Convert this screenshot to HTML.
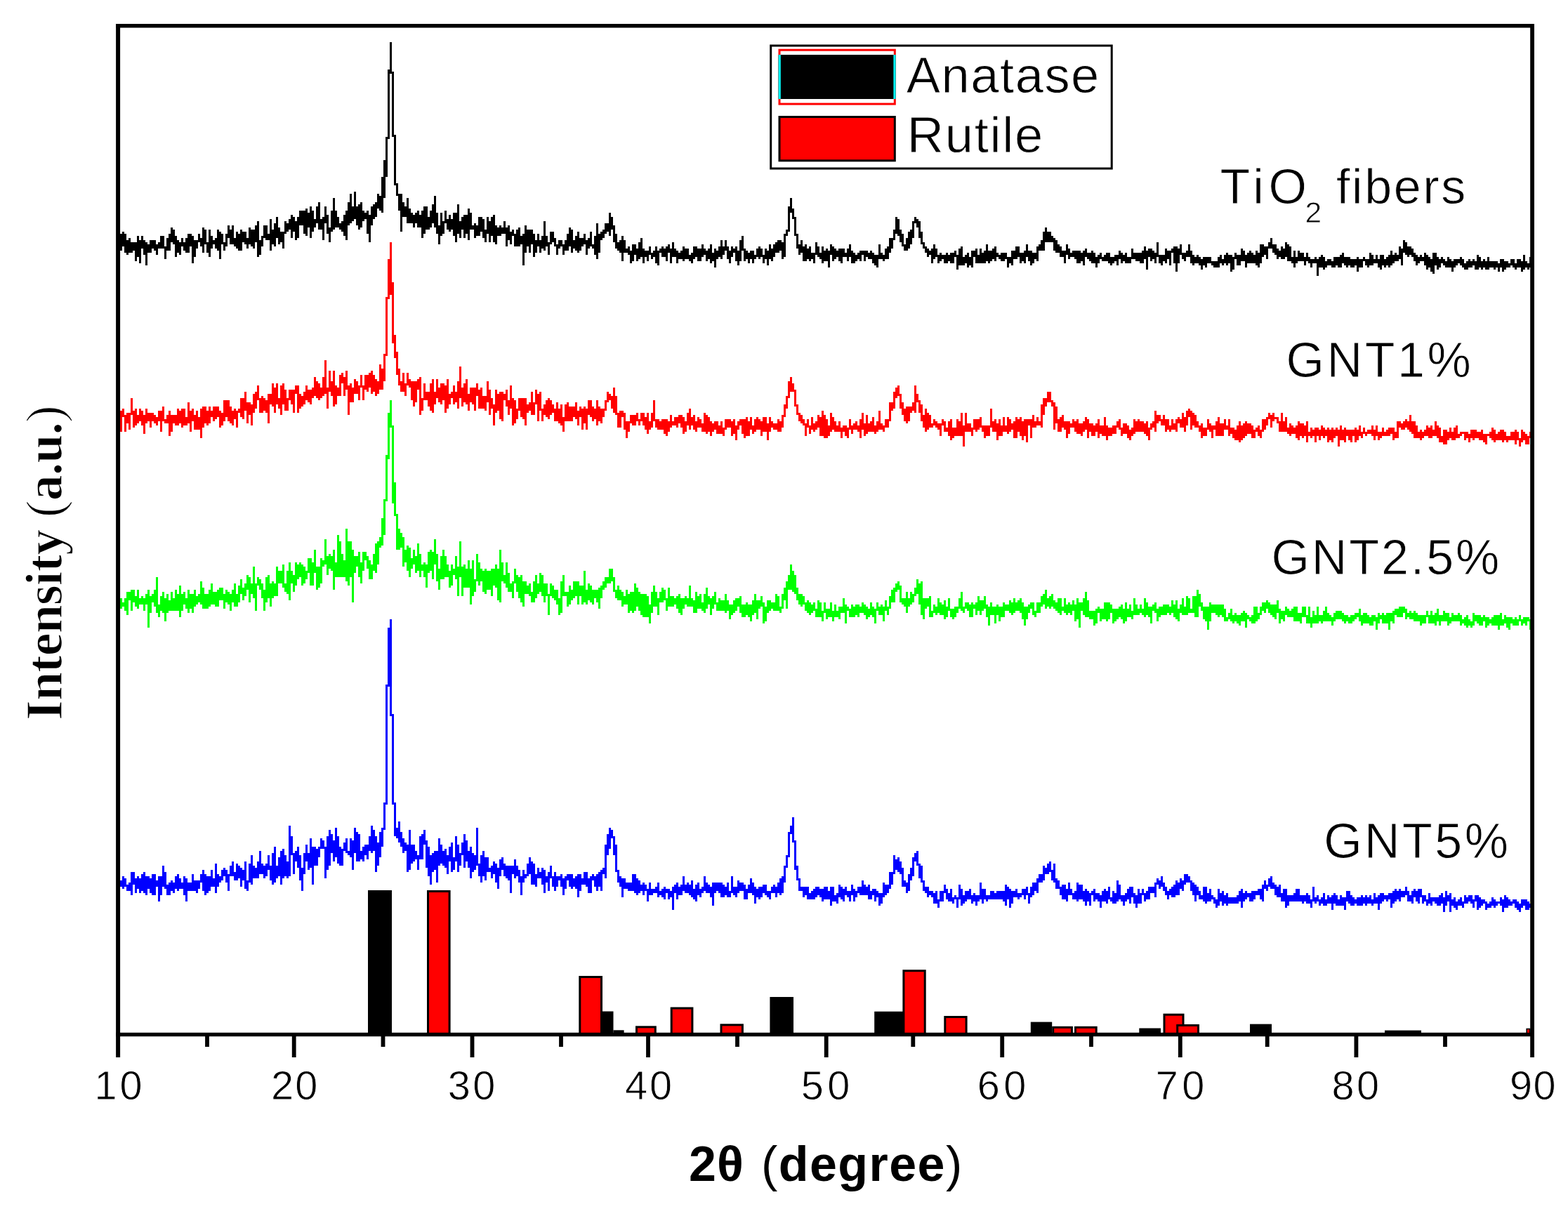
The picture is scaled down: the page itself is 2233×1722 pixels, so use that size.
<!DOCTYPE html>
<html><head><meta charset="utf-8"><title>XRD patterns</title>
<style>html,body{margin:0;padding:0;background:#fff;}svg{display:block;}</style>
</head><body>
<svg width="2233" height="1722" viewBox="0 0 2233 1722">
<rect width="2233" height="1722" fill="#fff"/>
<path fill="#000" d="M168 342H171V333H174V330H177V333H180V342H183V339H186V345H189H192H195V336H198V342H201V336H204V342H207V345H210V348H213V342H216H219H222V348H225V345H228V336H231H234V351H237V339H240V333H243V324H246V327H249V336H252V342H255V345H258V339H261V345H264V339H267V333H270H273V336H276V342H279H282V333H285V339H288V324H291V327H294V345H297V327H300V336H303V342H306V339H309V327H312V330H315V333H318V345H321V333H324V321H327V327H330V321H333V339H336V330H339V333H342V327H345V330H348H351V339H354V324H357V327H360H363V321H366V315H369V342H372V336H375V321H378H381V333H384V312H387V327H390V318H393V309H396V324H399V330H402H405V315H408V318H411V312H414V306H417V309H420V315H423V309H426V300H429H432H435V297H438V303H441V294H444V300H447V312H450V294H453V288H456V312H459V309H462V294H465V306H468V324H471V300H474V282H477V300H480V309H483V318H486V315H489V306H492V300H495V288H498V276H501V294H504V273H507V294H510V291H513V288H516V300H519V303H522V300H525V306H528V294H531V291H534V288H537V276H540V279H543V252H546V228H549V195H552V99H555V60H558V102H561V192H564V261H567V276H570H573V288H576V294H579V282H582V297H585V303H588V306H591V303H594V300H597V306H600V300H603V294H606H609V309H612V300H615V291H618V279H621V303H624V321H627V303H630V315H633V300H636V312H639V306H642V312H645V303H648H651V291H654V315H657V309H660V306H663H666V297H669V303H672V321H675V318H678V321H681V309H684H687V312H690V327H693V309H696V315H699V309H702V306H705V321H708V324H711V321H714V324H717V315H720V324H723V321H726V330H729V327H732V333H735V327H738V324H741V336H744V333H747V321H750V327H753H756H759V333H762V342H765V333H768V342H771V336H774V315H777V336H780V345H783V330H786H789V339H792V348H795V342H798H801V348H804V342H807V333H810V324H813V327H816V342H819V336H822V330H825V339H828H831V333H834V342H837V339H840V330H843V348H846V336H849V318H852V333H855V330H858V327H861V318H864H867V303H870V309H873V321H876V333H879V345H882V342H885V336H888V342H891V354H894V351H897V357H900V348H903H906V354H909V345H912V339H915V354H918V357H921H924V351H927V360H930V357H933V351H936V357H939V354H942V351H945V354H948V351H951V348H954V354H957V345H960V354H963V357H966V360H969V357H972V351H975V354H978H981V363H984V360H987V351H990H993V354H996H999V348H1002V354H1005V357H1008V354H1011V348H1014V360H1017V354H1020V357H1023V351H1026V342H1029V351H1032V342H1035V351H1038V357H1041V351H1044V354H1047V351H1050V357H1053V342H1056V336H1059V354H1062V357H1065V360H1068V357H1071H1074V363H1077V354H1080V351H1083V354H1086V363H1089V354H1092V357H1095V348H1098V354H1101V348H1104V345H1107V342H1110H1113V345H1116V333H1119V327H1122V294H1125V282H1128V297H1131V309H1134V333H1137V348H1140V342H1143V351H1146V348H1149V354H1152V351H1155V360H1158H1161V345H1164V351H1167V360H1170V351H1173V357H1176V354H1179V357H1182V348H1185V351H1188V354H1191V357H1194V354H1197H1200H1203V360H1206V354H1209V348H1212V357H1215V360H1218V363H1221V360H1224V357H1227H1230H1233H1236V360H1239V357H1242V360H1245V363H1248H1251V348H1254V360H1257V363H1260V354H1263V351H1266V339H1269H1272V327H1275V309H1278V312H1281V327H1284V333H1287V348H1290V339H1293V330H1296V327H1299V315H1302V309H1305V312H1308V315H1311V330H1314V345H1317V351H1320V354H1323V357H1326V354H1329V348H1332V354H1335V363H1338V360H1341V363H1344H1347V360H1350V363H1353V360H1356H1359V357H1362V363H1365V354H1368V351H1371V366H1374V363H1377V360H1380V366H1383V357H1386H1389V354H1392V363H1395V354H1398V360H1401V357H1404V348H1407V357H1410H1413V354H1416V351H1419V360H1422V363H1425V360H1428H1431H1434V366H1437H1440V357H1443H1446V351H1449H1452V360H1455H1458V357H1461V348H1464V357H1467H1470V360H1473H1476V351H1479V348H1482V342H1485V330H1488V324H1491V330H1494H1497V336H1500V339H1503V342H1506V348H1509V351H1512V357H1515H1518V348H1521V354H1524V360H1527V357H1530H1533H1536H1539V360H1542V357H1545V354H1548V360H1551H1554V357H1557V360H1560V366H1563V363H1566V360H1569V366H1572V363H1575V360H1578H1581V366H1584H1587V363H1590H1593V357H1596V360H1599V363H1602V360H1605V366H1608H1611V354H1614V360H1617H1620H1623H1626V357H1629V351H1632V357H1635V354H1638H1641V357H1644V360H1647V345H1650V363H1653H1656H1659V354H1662V357H1665H1668V354H1671V351H1674H1677V354H1680V348H1683V360H1686H1689V357H1692V348H1695V357H1698V363H1701V366H1704V363H1707V366H1710V369H1713V366H1716H1719H1722H1725V372H1728H1731H1734V366H1737V363H1740V369H1743V363H1746V360H1749V363H1752H1755V366H1758V360H1761V363H1764H1767V354H1770V357H1773V363H1776V360H1779V357H1782V360H1785V363H1788V357H1791V360H1794V348H1797H1800V351H1803H1806V345H1809V339H1812V348H1815H1818V354H1821V357H1824V351H1827V354H1830V345H1833V348H1836V351H1839V366H1842V357H1845V366H1848V357H1851V360H1854H1857V366H1860V360H1863V366H1866V369H1869H1872V366H1875V369H1878V366H1881V363H1884V366H1887V372H1890V369H1893H1896V372H1899V366H1902H1905H1908V363H1911V360H1914V366H1917H1920H1923V369H1926H1929H1932V366H1935V369H1938H1941V366H1944V369H1947H1950V360H1953V363H1956V369H1959V363H1962V369H1965V363H1968H1971V369H1974V366H1977V363H1980V357H1983V363H1986V360H1989V363H1992V351H1995V354H1998V342H2001V345H2004V351H2007H2010V354H2013V360H2016V363H2019V366H2022V363H2025V366H2028V360H2031V363H2034V366H2037V369H2040V360H2043H2046V366H2049V369H2052V366H2055V369H2058V372H2061V366H2064V369H2067V372H2070V369H2073H2076H2079V366H2082V369H2085V375H2088V372H2091V369H2094V372H2097V369H2100V372H2103V363H2106V366H2109V372H2112V369H2115V372H2118V366H2121V372H2124H2127H2130H2133V375H2136V369H2139H2142V372H2145H2148V375H2151V369H2154H2157V375H2160V369H2163H2166V372H2169V363H2172V372H2175V375H2178V366H2181V381H2178V384H2175V381H2172V384H2169V387H2166V381H2163H2160V384H2157V381H2154V378H2151V381H2148H2145V384H2142V387H2139V381H2136V387H2133V381H2130V384H2127V381H2124H2121V384H2118H2115V381H2112V384H2109V381H2106V384H2103H2100V378H2097V381H2094H2091V384H2088H2085V381H2082V378H2079V375H2076V378H2073V381H2070V387H2067V381H2064H2061H2058V378H2055V375H2052V381H2049V384H2046V378H2043V390H2040V387H2037V381H2034V384H2031V378H2028V372H2025H2022V375H2019V378H2016V372H2013V366H2010V363H2007V366H2004V363H2001V360H1998V378H1995V369H1992V372H1989H1986V375H1983V378H1980V381H1977V378H1974V381H1971V378H1968V384H1965V381H1962V375H1959H1956V378H1953H1950V381H1947V378H1944V372H1941V381H1938H1935V387H1932V378H1929V381H1926H1923V378H1920V381H1917V378H1914V375H1911V381H1908H1905V378H1902V381H1899H1896V378H1893H1890V381H1887V384H1884V381H1881H1878V393H1875V375H1872H1869V381H1866V375H1863V372H1860V378H1857V372H1854H1851H1848V375H1845V381H1842V375H1839V372H1836H1833V366H1830V369H1827H1824V366H1821V369H1818V363H1815V360H1812V354H1809H1806V369H1803V363H1800V366H1797V375H1794V381H1791V378H1788V375H1785H1782H1779H1776V381H1773V372H1770H1767V378H1764H1761V369H1758V384H1755V387H1752V375H1749V378H1746V375H1743V378H1740V375H1737V381H1734H1731H1728V378H1725V375H1722H1719V381H1716V378H1713V384H1710V378H1707V375H1704H1701V378H1698V375H1695V366H1692H1689V372H1686V369H1683V363H1680V375H1677V387H1674V375H1671V360H1668V378H1665V369H1662V375H1659V372H1656V378H1653V375H1650V366H1647V375H1644V369H1641V372H1638V366H1635V384H1632V369H1629V375H1626H1623V372H1620H1617V369H1614H1611V375H1608H1605H1602V372H1599V375H1596V369H1593V378H1590V372H1587V375H1584V378H1581V375H1578V372H1575H1572H1569V369H1566V375H1563V381H1560V375H1557H1554V372H1551V369H1548V366H1545V378H1542V372H1539V375H1536H1533V369H1530V366H1527H1524V369H1521V363H1518V375H1515V366H1512H1509V360H1506H1503V357H1500V345H1497H1494H1491H1488V357H1485H1482H1479V372H1476V369H1473V375H1470V378H1467V372H1464V366H1461V375H1458V372H1455V375H1452V366H1449V369H1446H1443V378H1440V375H1437V381H1434V369H1431V372H1428H1425V369H1422V366H1419V372H1416V369H1413V372H1410V375H1407V372H1404V375H1401H1398H1395H1392H1389V366H1386V381H1383V378H1380V381H1377V375H1374V378H1371H1368H1365V384H1362V366H1359V375H1356H1353V372H1350V375H1347H1344V369H1341V372H1338V375H1335V366H1332V369H1329V375H1326V363H1323V366H1320V360H1317V354H1314V348H1311V339H1308V324H1305V318H1302V339H1299V348H1296V354H1293V357H1290H1287V351H1284V345H1281V336H1278V333H1275V342H1272V354H1269V360H1266V369H1263H1260V372H1257V369H1254H1251V381H1248V378H1245V375H1242V369H1239H1236V366H1233V372H1230V363H1227V372H1224V369H1221V372H1218V375H1215H1212V366H1209V372H1206V366H1203H1200V375H1197V372H1194V366H1191V369H1188V372H1185V363H1182V381H1179V372H1176H1173V375H1170V369H1167V366H1164V363H1161V375H1158V369H1155V372H1152V369H1149V372H1146H1143V360H1140V363H1137V354H1134V336H1131V312H1128V303H1125V330H1122V336H1119V366H1116V369H1113V357H1110V360H1107H1104V366H1101V372H1098V369H1095V378H1092V369H1089V375H1086V366H1083V369H1080V366H1077V369H1074V375H1071V369H1068V375H1065V369H1062V372H1059V357H1056V372H1053V378H1050V372H1047V360H1044V366H1041V375H1038V369H1035V357H1032V363H1029V369H1026V366H1023V369H1020V381H1017V372H1014V375H1011V369H1008V372H1005V363H1002V366H999V372H996H993V366H990V369H987V375H984V372H981V369H978H975V372H972V369H969H966V375H963V366H960H957V375H954V360H951V372H948V366H945H942V360H939V378H936V375H933V366H930V369H927V363H924V372H921V366H918V375H915V366H912V369H909V372H906V363H903V372H900V375H897V363H894V360H891H888V372H885V360H882V357H879V354H876V345H873V327H870V336H867V330H864V333H861V339H858V342H855V360H852V369H849V363H846V354H843V351H840V354H837V363H834V348H831V351H828V357H825V360H822V357H819V354H816V360H813V351H810V357H807H804V363H801V351H798V354H795V363H792V351H789V345H786V348H783V363H780V351H777V357H774V354H771V360H768V351H765V360H762V366H759V348H756V360H753V351H750V360H747V378H744V348H741V351H738H735H732V336H729V348H726V342H723V351H720V333H717H714V336H711H708V348H705V345H702V336H699V345H696V333H693V345H690V339H687V330H684V336H681H678V339H675V327H672H669V342H666V333H663V339H660V327H657V339H654V333H651V345H648V336H645V327H642V330H639V327H636V318H633V333H630V336H627V348H624V333H621V324H618V318H615V324H612V327H609H606V333H603V339H600V324H597H594V318H591V324H588V318H585H582H579V309H576H573V330H570V300H567V279H564V264H561V195H558V105H555V198H552V252H549V282H546V303H543V300H540V297H537V309H534V312H531V321H528V345H525V333H522V312H519V315H516V324H513V327H510V321H507V312H504V315H501V318H498V321H495V342H492V336H489V330H486V327H483V324H480H477V327H474V330H471V345H468V333H465V318H462V342H459V327H456H453V318H450V324H447V330H444V339H441V324H438V336H435V333H432V321H429H426V339H423V342H420V330H417V339H414V327H411V330H408V333H405V354H402V345H399V348H396V339H393V351H390V348H387V357H384V342H381H378V339H375V351H372V363H369V366H366V345H363V354H360V351H357V348H354V354H351V348H348V345H345V357H342H339V354H336V351H333V348H330H327V339H324V351H321V357H318V348H315V369H312V357H309V354H306V348H303V354H300V366H297V360H294V348H291V360H288V351H285V345H282V354H279V366H276V375H273V351H270V360H267H264V357H261V351H258V363H255V360H252V366H249V348H246V345H243V357H240H237V369H234V354H231H228H225V363H222V357H219V354H216V360H213H210V378H207V363H204V354H201V375H198V366H195V372H192V357H189V360H186H183V363H180V360H177V351H174V357H171H168Z"/>
<path fill="#f00" d="M168 576H171V585H174V582H177V591H180V588H183H186V567H189V585H192V582H195V591H198V582H201V585H204V591H207V582H210V588H213H216H219V591H222V594H225V585H228H231V579H234V597H237V591H240V585H243V591H246H249H252V582H255V585H258V582H261H264V594H267V573H270V585H273V582H276V591H279V585H282V594H285V582H288V579H291H294V585H297V579H300V585H303V579H306H309H312V585H315V588H318V570H321H324H327V579H330V585H333V582H336V585H339V582H342V567H345H348V558H351V573H354H357V576H360V561H363V558H366V549H369V567H372V564H375V567H378V570H381V561H384H387V546H390V552H393V546H396V567H399V549H402V546H405V555H408V567H411V555H414H417H420V549H423H426V561H429V564H432V558H435V549H438V555H441H444V552H447V537H450V543H453V546H456V552H459V537H462V513H465V552H468V528H471V543H474V528H477V549H480V552H483V534H486V531H489V537H492V528H495V549H498V546H501V552H504V540H507V543H510V549H513V534H516V549H519V534H522H525V531H528V528H531V534H534V540H537V543H540V519H543V525H546V504H549V423H552V369H555V345H558V402H561V477H564V501H567V525H570V543H573V531H576V546H579V531H582V540H585V543H588H591H594V540H597V537H600V567H603V546H606V558H609H612V546H615V540H618V558H621V540H624V552H627V546H630H633V549H636V540H639V561H642V558H645V549H648V558H651V543H654V522H657V552H660V546H663V540H666V561H669V552H672H675H678V546H681V555H684V552H687V564H690H693V543H696V555H699V567H702V576H705V555H708V561H711V558H714H717V561H720V555H723V570H726V549H729V567H732V570H735V582H738V567H741H744H747H750V576H753V573H756V558H759V573H762V555H765V561H768V558H771V582H774V576H777V570H780V567H783V570H786V576H789V582H792V573H795V582H798V576H801V594H804V576H807V573H810V579H813H816H819V573H822V585H825V579H828V582H831V579H834V582H837V570H840H843V579H846V582H849V570H852V579H855V582H858H861V570H864V558H867V561H870V564H873V552H876V564H879V588H882V585H885H888V588H891V600H894H897V591H900H903H906V588H909V597H912V588H915H918V594H921V588H924V600H927V588H930V570H933V597H936H939V600H942V597H945H948H951V600H954V591H957V600H960V594H963H966V591H969H972V594H975V600H978V588H981V582H984V594H987V591H990V600H993V594H996V597H999V603H1002V588H1005V591H1008V594H1011V600H1014V603H1017V600H1020H1023V606H1026V600H1029V609H1032V597H1035H1038H1041V600H1044V597H1047V606H1050V600H1053V597H1056H1059H1062V594H1065V600H1068V594H1071V606H1074V597H1077V594H1080V597H1083V600H1086V594H1089H1092V603H1095V594H1098V600H1101V603H1104H1107V597H1110V600H1113V591H1116V576H1119V564H1122V543H1125V537H1128V546H1131V555H1134V576H1137V588H1140V591H1143V597H1146V603H1149V597H1152V606H1155V594H1158V603H1161V600H1164V591H1167V594H1170V585H1173V591H1176V597H1179V606H1182V588H1185V594H1188V600H1191V606H1194V600H1197V609H1200V606H1203H1206V609H1209V597H1212V606H1215V603H1218V600H1221V606H1224V597H1227V588H1230V603H1233V591H1236V603H1239V600H1242V594H1245V606H1248V600H1251V585H1254V603H1257V606H1260V597H1263H1266V573H1269H1272V558H1275V552H1278V549H1281V561H1284V573H1287V582H1290V579H1293H1296H1299V573H1302V549H1305V561H1308V570H1311V576H1314V591H1317V582H1320V588H1323V591H1326V603H1329V597H1332V600H1335V603H1338H1341V597H1344V600H1347V609H1350V600H1353V597H1356V609H1359H1362V597H1365V600H1368V588H1371V606H1374V588H1377V603H1380H1383V609H1386V597H1389H1392H1395V594H1398V606H1401H1404H1407H1410V582H1413V600H1416V597H1419V603H1422V597H1425V606H1428V594H1431V606H1434V594H1437V597H1440V603H1443V600H1446V594H1449V597H1452V594H1455V600H1458V597H1461H1464H1467H1470V591H1473V600H1476V594H1479V600H1482V576H1485V567H1488H1491V558H1494H1497V570H1500V573H1503V579H1506V597H1509V594H1512V591H1515V600H1518H1521H1524V603H1527V597H1530V600H1533V597H1536V603H1539H1542V600H1545V594H1548V597H1551V603H1554H1557V606H1560V603H1563V597H1566V606H1569H1572V594H1575V606H1578V609H1581H1584V606H1587H1590V600H1593V597H1596V609H1599V603H1602H1605V606H1608V612H1611V609H1614V597H1617V600H1620V597H1623V600H1626H1629V603H1632V600H1635V609H1638V603H1641V600H1644V585H1647V591H1650H1653V597H1656V591H1659V597H1662H1665V606H1668V597H1671V603H1674V597H1677V594H1680V597H1683V588H1686V594H1689V585H1692V582H1695V585H1698V588H1701V591H1704V600H1707V606H1710V603H1713V609H1716H1719V597H1722V603H1725V606H1728H1731V600H1734V594H1737V603H1740H1743V597H1746V606H1749V597H1752V609H1755H1758V612H1761V606H1764V600H1767V606H1770V603H1773V600H1776V603H1779H1782V606H1785V612H1788V609H1791V606H1794V612H1797V597H1800H1803V594H1806V588H1809V591H1812V588H1815V594H1818H1821V600H1824V588H1827V600H1830V594H1833V609H1836V603H1839V606H1842V609H1845V606H1848V600H1851V603H1854H1857V606H1860V600H1863V615H1866V609H1869V612H1872V609H1875H1878V612H1881V606H1884V609H1887V612H1890V609H1893V612H1896V609H1899V612H1902V609H1905V612H1908V606H1911V612H1914V609H1917V612H1920H1923H1926H1929V609H1932V612H1935V606H1938V615H1941V609H1944V615H1947V612H1950H1953V606H1956V612H1959V606H1962V615H1965H1968V609H1971V615H1974V612H1977V609H1980H1983H1986V615H1989V600H1992H1995V603H1998V600H2001V597H2004V600H2007V591H2010V600H2013H2016V606H2019V615H2022V612H2025V615H2028V612H2031V606H2034V609H2037V606H2040V612H2043V600H2046V606H2049V609H2052V621H2055V612H2058H2061V615H2064V609H2067V615H2070V609H2073V606H2076V618H2079V615H2082H2085H2088H2091V618H2094V612H2097H2100H2103V615H2106H2109V612H2112V618H2115H2118H2121V615H2124V609H2127V612H2130V618H2133V615H2136V612H2139H2142V615H2145V621H2148H2151V615H2154H2157V612H2160V615H2163V624H2166V612H2169V615H2172V618H2175V621H2178V615H2181V624H2178V633H2175H2172V627H2169V630H2166V636H2163V627H2160V633H2157V627H2154H2151H2148V630H2145V627H2142V630H2139V627H2136H2133H2130V630H2127V627H2124V624H2121V621H2118V633H2115V630H2112V627H2109H2106V624H2103H2100V627H2097V624H2094V630H2091V624H2088V627H2085V618H2082V621H2079V624H2076H2073V627H2070H2067V624H2064V627H2061V633H2058H2055V630H2052H2049V624H2046V621H2043H2040V624H2037H2034V621H2031H2028V624H2025V627H2022V624H2019H2016H2013V618H2010V615H2007V612H2004V609H2001V612H1998H1995V609H1992V624H1989H1986V627H1983V618H1980V621H1977H1974H1971H1968V624H1965V627H1962V621H1959V627H1956V621H1953V618H1950H1947V621H1944V618H1941V624H1938V621H1935V627H1932V630H1929V621H1926V630H1923V627H1920V621H1917V630H1914V627H1911H1908V636H1905V621H1902V624H1899V630H1896V627H1893V630H1890V621H1887V624H1884V621H1881V627H1878V621H1875V630H1872V621H1869V624H1866V621H1863V630H1860V621H1857V624H1854V621H1851V627H1848V624H1845V618H1842H1839V621H1836V618H1833V615H1830H1827H1824H1821V603H1818V597H1815V600H1812V609H1809V597H1806V606H1803V612H1800V615H1797V624H1794V621H1791V615H1788V624H1785H1782V618H1779H1776V621H1773V624H1770V627H1767V630H1764V627H1761H1758V624H1755V618H1752V621H1749V612H1746H1743V621H1740H1737H1734H1731V612H1728V624H1725V615H1722V612H1719V621H1716H1713V624H1710V615H1707V609H1704H1701V606H1698V612H1695V594H1692V606H1689V615H1686V609H1683H1680V603H1677V615H1674V612H1671H1668V615H1665V612H1662V615H1659V606H1656H1653V600H1650V603H1647V615H1644V609H1641V612H1638V627H1635V621H1632V618H1629V615H1626H1623H1620H1617V618H1614V621H1611V627H1608V624H1605V618H1602H1599V621H1596V612H1593V609H1590V618H1587H1584V621H1581H1578V627H1575V621H1572H1569V618H1566V624H1563V615H1560V621H1557H1554V615H1551V624H1548V612H1545V615H1542V621H1539V618H1536H1533V615H1530V609H1527H1524V618H1521V624H1518V612H1515V609H1512V615H1509H1506V603H1503V612H1500V579H1497V573H1494H1491V579H1488V591H1485V609H1482V606H1479H1476V609H1473H1470V624H1467V606H1464V630H1461V621H1458V627H1455V621H1452V615H1449V624H1446H1443V612H1440V615H1437V618H1434V615H1431H1428V621H1425H1422V627H1419V615H1416H1413V609H1410V621H1407H1404V624H1401V615H1398V609H1395V612H1392V615H1389V612H1386V621H1383V615H1380H1377H1374V636H1371V621H1368H1365H1362H1359V624H1356V627H1353V621H1350V615H1347H1344V606H1341V621H1338V612H1335V609H1332V606H1329V609H1326H1323V612H1320V615H1317V609H1314V600H1311V588H1308V573H1305V588H1302V585H1299V588H1296V600H1293V603H1290V600H1287V591H1284V582H1281V564H1278V567H1275V582H1272V585H1269V600H1266V609H1263H1260V615H1257V612H1254H1251V615H1248V618H1245V615H1242H1239H1236V618H1233V621H1230V612H1227V624H1224V615H1221V612H1218H1215V618H1212V612H1209V624H1206V621H1203V615H1200V624H1197V615H1194H1191H1188V612H1185V615H1182V621H1179V624H1176H1173V621H1170H1167V609H1164V612H1161V615H1158V612H1155V618H1152V609H1149V621H1146V606H1143V603H1140V600H1137V591H1134V579H1131V558H1128H1125V567H1122V582H1119V594H1116V609H1113V615H1110H1107V612H1104H1101V609H1098V615H1095V627H1092V615H1089H1086V621H1083V612H1080H1077V615H1074V618H1071V612H1068V621H1065H1062V624H1059V618H1056V606H1053V612H1050V627H1047V618H1044V621H1041V609H1038H1035V612H1032V621H1029V618H1026H1023H1020V612H1017V615H1014V621H1011V615H1008V618H1005V615H1002H999V609H996H993V615H990V612H987V606H984V612H981V606H978V615H975V618H972V609H969V603H966V609H963V606H960H957V609H954V615H951V621H948V618H945V612H942H939H936V609H933V600H930V609H927V612H924V618H921V612H918V606H915V600H912V606H909V600H906V606H903H900V603H897V615H894V624H891V612H888V594H885V609H882H879V591H876V588H873V582H870V570H867V573H864V585H861V594H858V603H855V600H852V606H849V597H846V600H843V594H840V591H837V612H834V603H831V612H828V594H825V606H822V597H819V594H816V600H813H810H807H804V615H801V606H798V603H795V600H792H789V588H786V591H783V597H780V594H777V591H774V600H771V585H768V600H765V576H762V591H759H756V585H753V588H750V606H747V597H744V594H741V585H738V597H735V603H732V606H729V582H726V591H723V579H720V570H717V600H714V597H711V585H708V588H705V606H702V582H699V591H696V573H693V585H690V582H687H684H681V564H678V585H675V576H672V573H669V585H666V576H663V573H660V579H657V567H654V582H651V573H648V576H645V567H642V576H639V582H636V588H633V570H630V576H627V573H624V567H621V576H618V588H615V585H612V579H609V570H606H603V585H600V591H597V555H594V573H591V579H588V570H585V552H582V549H579V564H576V558H573H570V549H567V534H564V510H561V489H558V420H555V426H552V507H549V543H546V555H543H540V561H537V564H534V558H531V561H528V552H525V558H522V555H519V570H516V552H513V570H510V561H507H504V573H501H498V591H495V555H492V564H489V546H486V564H483H480V576H477V579H474V564H471V558H468V582H465V561H462V564H459V567H456V570H453V567H450V564H447V567H444V576H441V573H438V570H435V576H432V579H429V582H426V588H423V561H420V588H417V576H414V570H411V585H408H405V576H402V591H399V582H396V576H393V588H390V579H387V576H384V603H381V588H378V585H375V588H372H369V570H366V582H363V588H360V606H357V591H354V603H351V585H348V597H345V594H342V588H339V609H336V597H333V606H330V603H327V600H324V594H321V600H318V606H315V609H312V594H309V597H306V600H303V594H300V603H297V606H294V603H291V609H288V624H285V612H282H279H276V600H273V615H270V603H267V606H264H261V609H258V603H255V606H252H249V603H246V615H243V621H240V603H237H234V600H231V615H228V600H225V606H222V603H219V600H216V609H213V600H210V603H207V618H204V606H201V600H198V603H195V606H192V609H189V591H186V612H183V603H180V615H177V594H174V615H171V603H168Z"/>
<path fill="#0f0" d="M168 849H171V852H174V858H177V852H180V843H183H186V840H189H192V849H195V840H198V852H201V849H204V852H207V846H210V840H213V849H216V846H219V840H222V822H225V861H228V849H231V843H234V852H237V846H240V855H243V843H246V852H249V840H252V846H255V834H258V846H261V843H264V852H267V840H270V846H273H276V840H279V849H282V846H285V828H288V837H291V846H294H297V840H300V831H303V843H306H309V840H312V837H315H318V846H321V840H324V843H327V846H330V840H333V831H336V846H339V834H342V825H345V837H348V831H351V819H354V822H357V831H360V807H363V831H366V822H369V825H372V831H375V840H378V822H381V819H384V831H387V828H390V831H393V807H396V813H399H402V804H405V831H408V813H411V801H414V813H417V819H420V801H423V804H426V801H429V804H432V807H435V813H438V795H441H444V801H447V783H450V807H453H456V795H459V798H462V768H465V792H468V789H471V792H474V783H477V801H480V762H483V771H486V789H489V798H492V753H495V771H498H501V783H504V792H507H510V786H513V801H516V786H519H522V792H525V798H528V804H531V789H534V774H537V771H540V765H543V738H546V711H549V648H552V588H555V570H558V606H561V687H564V732H567V753H570V759H573V765H576V783H579V777H582V780H585V795H588V783H591V792H594V774H597V789H600V804H603V801H606V804H609V786H612V783H615V786H618V768H621V789H624V810H627V792H630V783H633V792H636V804H639V813H642V804H645V810H648V792H651V807H654V771H657V807H660V804H663V810H666V798H669V810H672V798H675V825H678V789H681V801H684V810H687V813H690V810H693V813H696H699V810H702H705V804H708V810H711V783H714V801H717V819H720V801H723V816H726V831H729V828H732V810H735V819H738V822H741V819H744V828H747H750V834H753V831H756V843H759V828H762V819H765V831H768V816H771V819H774V831H777H780V846H783V831H786V834H789V840H792H795V852H798V828H801V819H804V843H807H810V834H813V840H816V828H819H822H825V834H828H831V813H834V840H837V831H840V834H843V840H846H849H852V837H855V834H858V828H861V822H864H867V810H870H873V822H876V840H879V834H882V840H885V843H888V849H891V840H894V846H897V843H900H903V831H906V837H909V843H912V846H915H918H921V849H924V861H927V843H930V834H933V843H936V852H939V843H942V837H945V840H948V852H951V837H954V849H957H960V852H963V849H966V846H969V852H972H975V849H978V852H981V834H984V852H987V855H990V843H993V849H996V846H999V858H1002V846H1005V837H1008V849H1011V852H1014V849H1017V843H1020V858H1023V852H1026V855H1029H1032V846H1035V855H1038V861H1041H1044V855H1047V852H1050H1053V849H1056V861H1059H1062V858H1065V861H1068H1071V855H1074V846H1077V855H1080H1083V849H1086V858H1089V864H1092V855H1095H1098V858H1101H1104V846H1107V849H1110V864H1113V846H1116V837H1119V828H1122V819H1125V804H1128V813H1131V819H1134V837H1137V846H1140H1143V849H1146V858H1149V855H1152V858H1155V861H1158V858H1161V867H1164V855H1167V858H1170V870H1173V858H1176V867H1179H1182V858H1185V870H1188V861H1191V870H1194V864H1197H1200V852H1203V861H1206V864H1209V867H1212V861H1215V864H1218V861H1221H1224V864H1227V858H1230V861H1233V864H1236V867H1239V858H1242V864H1245V867H1248V858H1251V864H1254V861H1257V864H1260V855H1263V864H1266V849H1269V840H1272V837H1275V831H1278V828H1281V834H1284V852H1287H1290V843H1293V852H1296V843H1299V846H1302V837H1305V825H1308V831H1311V828H1314V852H1317H1320H1323V849H1326V870H1329V861H1332V864H1335V852H1338V858H1341V861H1344V855H1347V864H1350V852H1353V867H1356H1359V864H1362H1365V852H1368V843H1371V864H1374V858H1377H1380V861H1383V858H1386V861H1389V858H1392V849H1395V855H1398H1401V849H1404V861H1407V864H1410V858H1413V864H1416H1419V861H1422V864H1425H1428V858H1431V861H1434H1437V855H1440V858H1443V852H1446V858H1449V855H1452V852H1455V858H1458V864H1461H1464V861H1467V858H1470H1473V870H1476V858H1479H1482V849H1485V846H1488V840H1491V852H1494V849H1497V846H1500V855H1503V858H1506V852H1509H1512V864H1515V852H1518V861H1521V858H1524V861H1527V855H1530V861H1533V852H1536V858H1539H1542V852H1545V843H1548V855H1551V870H1554H1557H1560V867H1563V864H1566V867H1569H1572V858H1575H1578H1581V861H1584V867H1587H1590H1593V864H1596V861H1599V867H1602V858H1605V867H1608V861H1611V870H1614V852H1617V861H1620V867H1623V861H1626V867H1629V852H1632V858H1635V864H1638H1641V861H1644V858H1647V867H1650V864H1653H1656V861H1659H1662H1665V864H1668V855H1671V861H1674V855H1677V867H1680V861H1683V852H1686V864H1689V849H1692V852H1695V867H1698V849H1701H1704V840H1707V846H1710V858H1713V864H1716H1719H1722V858H1725V861H1728H1731H1734H1737H1740H1743V867H1746V879H1749V873H1752V867H1755V876H1758V873H1761V876H1764H1767V873H1770V870H1773V873H1776V876H1779V879H1782V876H1785V864H1788H1791V873H1794V864H1797V858H1800H1803V855H1806V858H1809V861H1812H1815H1818V855H1821V867H1824V870H1827H1830V864H1833V867H1836V870H1839V867H1842V864H1845H1848V873H1851H1854V864H1857H1860V876H1863V864H1866V879H1869V870H1872V876H1875V864H1878V876H1881H1884V870H1887V864H1890V873H1893V876H1896V879H1899V873H1902V870H1905H1908H1911V873H1914V876H1917H1920V879H1923V876H1926H1929V873H1932H1935V867H1938V876H1941V873H1944H1947V876H1950V879H1953V876H1956H1959V879H1962V873H1965V876H1968V873H1971V876H1974V873H1977H1980H1983V870H1986V867H1989H1992V864H1995H1998H2001V867H2004V873H2007V870H2010V873H2013V870H2016V873H2019V876H2022H2025H2028H2031V870H2034V876H2037V870H2040V876H2043V873H2046V867H2049V876H2052H2055V870H2058V873H2061H2064V879H2067V873H2070V876H2073H2076V873H2079V876H2082V882H2085V879H2088V876H2091V882H2094V885H2097V873H2100V876H2103H2106H2109V879H2112V876H2115V879H2118H2121V882H2124V879H2127V876H2130H2133H2136V873H2139V882H2142V876H2145V879H2148H2151H2154V882H2157V879H2160V882H2163V876H2166V882H2169V879H2172H2175H2178V882H2181V897H2178V885H2175V891H2172V888H2169V891H2166V885H2163V891H2160H2157H2154V888H2151V897H2148V894H2145V888H2142V891H2139H2136V897H2133V891H2130H2127H2124V888H2121V891H2118V894H2115V885H2112V891H2109H2106V888H2103V885H2100V891H2097V894H2094V891H2091V894H2088V891H2085V888H2082V891H2079V885H2076H2073H2070H2067V888H2064V891H2061V885H2058H2055H2052V891H2049V885H2046V891H2043V888H2040H2037H2034V879H2031V888H2028H2025V891H2022V885H2019H2016H2013V882H2010H2007V879H2004V882H2001V873H1998V879H1995H1992H1989V876H1986V888H1983V885H1980V897H1977V888H1974H1971H1968V882H1965V888H1962V897H1959V885H1956V891H1953H1950V888H1947H1944H1941V891H1938V885H1935V879H1932V882H1929V885H1926V888H1923H1920V885H1917V888H1914V885H1911V882H1908H1905H1902V885H1899V891H1896V885H1893H1890H1887H1884V888H1881V885H1878V888H1875H1872H1869V894H1866V888H1863H1860V879H1857H1854V888H1851V885H1848H1845H1842V879H1839H1836H1833V876H1830V885H1827V882H1824V888H1821V873H1818V882H1815V879H1812V876H1809V873H1806V867H1803V873H1800V870H1797V876H1794V882H1791V885H1788V888H1785H1782V885H1779V882H1776V894H1773V885H1770H1767V891H1764V888H1761V885H1758V888H1755V885H1752V882H1749V885H1746H1743V879H1740V876H1737V879H1734V876H1731V873H1728H1725V885H1722V897H1719V885H1716V882H1713V870H1710V864H1707V879H1704H1701V873H1698H1695H1692V876H1689H1686H1683V873H1680V885H1677V882H1674V879H1671V873H1668V876H1665V873H1662V876H1659H1656H1653V879H1650V885H1647V873H1644V870H1641V888H1638V879H1635V876H1632V879H1629V876H1626V873H1623V876H1620H1617H1614V882H1611V879H1608H1605V885H1602V888H1599V882H1596V879H1593V882H1590V885H1587V888H1584V873H1581V882H1578V885H1575V882H1572H1569V885H1566V873H1563V888H1560V891H1557V882H1554H1551V879H1548H1545V876H1542V870H1539V894H1536V882H1533V885H1530V870H1527V876H1524V873H1521V876H1518V873H1515V870H1512V876H1509V873H1506V870H1503V867H1500V864H1497V867H1494V864H1491V867H1488V861H1485V864H1482V873H1479H1476V879H1473V876H1470V867H1467V873H1464V882H1461V891H1458V882H1455V873H1452V870H1449H1446V873H1443V876H1440V873H1437V870H1434H1431V879H1428H1425V885H1422V876H1419V888H1416V876H1413H1410V891H1407V879H1404V867H1401V870H1398V876H1395V870H1392V876H1389V867H1386V879H1383H1380V870H1377V867H1374V873H1371V870H1368V867H1365V873H1362V879H1359V882H1356V879H1353V870H1350V879H1347V882H1344V876H1341H1338V873H1335V876H1332V873H1329V879H1326H1323V864H1320V867H1317V882H1314V876H1311V861H1308V846H1305V849H1302V858H1299V861H1296V864H1293V873H1290V864H1287V861H1284V858H1281V840H1278V843H1275V858H1272H1269V867H1266V876H1263V870H1260V885H1257V876H1254H1251V870H1248V888H1245V879H1242V876H1239V879H1236V882H1233V876H1230V873H1227H1224V879H1221V876H1218V879H1215H1212H1209V870H1206V888H1203V873H1200H1197V882H1194V879H1191H1188V885H1185V879H1182H1179V882H1176V873H1173V885H1170V879H1167H1164H1161V870H1158V873H1155V876H1152V873H1149V870H1146V861H1143V864H1140V861H1137V855H1134V846H1131V843H1128V840H1125H1122V867H1119V855H1116V867H1113V873H1110V870H1107H1104H1101V867H1098V870H1095V873H1092V885H1089V888H1086V864H1083V867H1080V882H1077V873H1074V876H1071V885H1068V879H1065V876H1062V879H1059H1056V873H1053V864H1050V870H1047V873H1044V876H1041V882H1038V870H1035V873H1032V870H1029H1026H1023H1020V861H1017V867H1014V876H1011V861H1008V867H1005V873H1002V870H999V867H996H993V873H990H987V864H984H981H978V861H975V867H972V876H969V873H966V867H963V861H960V864H957H954H951V870H948V855H945V858H942H939V876H936V864H933H930V873H927V888H924V879H921H918H915V876H912V870H909V864H906V870H903V873H900V870H897V873H894V861H891H888V864H885V855H882H879V852H876V843H873V828H870V831H867H864V837H861V840H858V852H855V867H852V858H849V852H846V861H843V858H840V855H837V861H834V858H831V861H828V849H825V861H822V849H819V852H816V855H813V861H810V864H807V849H804H801V873H798V876H795V861H792V855H789V852H786V849H783V876H780V849H777V858H774V849H771V843H768V846H765V852H762V858H759H756V849H753V846H750H747V864H744V858H741V852H738V843H735V831H732V852H729V843H726H723V837H720V831H717V828H714V858H711V855H708V837H705V834H702V849H699V840H696H693V846H690V843H687V828H684V834H681V828H678V843H675V849H672V861H669V837H666H663H660V849H657V822H654V849H651V825H648V819H645V834H642V837H639V822H636H633V825H630H627V840H624V828H621V804H618V825H615V813H612V816H609V837H606V822H603V813H600V822H597V813H594V816H591V804H588V810H585V822H582V813H579V801H576V807H573V780H570V783H567H564V735H561V717H558V609H555V654H552V714H549V762H546V777H543V780H540V804H537V816H534V813H531V825H528H525V810H522V798H519V813H516V831H513V822H510V807H507V816H504V858H501V822H498V834H495V828H492V822H489H486H483H480H477V840H474V813H471V810H468V819H465V804H462V807H459V831H456V837H453V840H450V816H447V834H444H441V816H438V825H435V831H432V834H429V822H426V825H423V834H420V843H417V831H414V855H411V846H408V843H405V837H402V831H399H396V849H393H390V852H387V864H384V852H381V858H378V870H375V852H372V840H369V834H366V870H363V852H360V846H357V858H354V840H351V849H348V855H345V846H342V858H339V864H336H333V858H330V870H327V861H324V858H321V867H318V855H315H312V864H309H306V861H303H300V864H297V867H294H291H288V861H285V858H282V861H279V864H276V873H273V867H270V873H267V867H264V861H261V870H258V879H255V870H252H249H246H243H240V873H237V885H234V873H231V870H228V879H225V873H222V864H219V858H216V873H213V894H210V861H207V870H204V861H201H198V867H195V864H192V858H189V870H186V855H183V876H180V870H177V864H174V867H171V858H168Z"/>
<path fill="#00f" d="M168 1257H171V1254H174V1248H177V1251H180V1260H183V1257H186V1242H189H192V1251H195V1248H198V1251H201V1245H204V1242H207V1248H210H213V1251H216V1245H219H222V1254H225V1248H228H231V1233H234V1242H237V1260H240V1257H243V1254H246V1257H249V1248H252V1245H255V1251H258V1257H261V1248H264V1251H267V1257H270H273V1245H276V1254H279H282H285V1245H288V1239H291V1245H294V1248H297H300V1239H303V1251H306V1230H309V1245H312V1248H315V1239H318V1236H321V1239H324V1245H327V1233H330V1227H333V1242H336V1230H339V1233H342V1236H345V1239H348V1227H351V1254H354V1230H357V1218H360V1233H363V1236H366V1227H369V1212H372V1230H375V1233H378V1230H381V1218H384V1233H387V1215H390V1206H393V1233H396V1221H399V1212H402V1209H405V1218H408V1227H411V1176H414V1191H417V1215H420V1212H423V1206H426V1218H429V1236H432V1215H435V1203H438V1215H441V1194H444V1206H447H450V1209H453V1206H456V1194H459V1197H462V1206H465V1191H468V1182H471V1188H474V1197H477V1179H480V1191H483V1206H486V1209H489V1200H492V1194H495V1212H498V1194H501V1197H504V1179H507V1185H510V1188H513V1212H516V1206H519V1203H522H525V1191H528V1176H531V1182H534V1191H537V1200H540V1185H543V1179H546V1143H549V975H552V894H555V882H558V1017H561V1143H564V1179H567V1170H570V1185H573V1194H576V1200H579V1203H582V1182H585V1203H588H591V1212H594V1218H597V1191H600V1188H603V1182H606V1197H609V1206H612V1218H615V1215H618V1212H621H624V1194H627V1203H630V1212H633V1209H636V1218H639V1206H642V1200H645V1221H648V1191H651V1203H654V1215H657V1200H660V1188H663V1197H666V1212H669V1206H672V1215H675V1218H678V1179H681V1230H684V1218H687V1212H690V1221H693H696V1236H699V1233H702V1227H705V1230H708V1236H711V1224H714V1221H717V1230H720V1233H723H726H729H732V1224H735V1233H738V1239H741V1248H744V1239H747V1245H750V1230H753V1221H756V1227H759V1230H762V1245H765V1236H768V1242H771V1236H774V1239H777V1248H780V1242H783V1233H786V1248H789V1242H792V1248H795H798V1245H801V1251H804V1248H807V1245H810H813H816V1251H819V1248H822V1245H825H828V1251H831V1242H834H837V1251H840V1248H843V1245H846V1248H849V1245H852V1242H855V1239H858V1236H861V1203H864V1188H867V1179H870V1182H873V1191H876V1203H879V1239H882V1248H885V1251H888H891V1257H894H897H900V1245H903H906V1251H909V1254H912V1260H915V1257H918V1260H921V1266H924V1257H927V1266H930H933V1263H936V1257H939V1269H942V1266H945V1263H948V1266H951H954V1269H957V1263H960V1260H963V1257H966V1263H969V1260H972V1248H975V1260H978V1257H981V1260H984V1254H987V1266H990V1260H993V1257H996V1266H999V1263H1002V1248H1005V1257H1008V1260H1011V1263H1014V1257H1017H1020H1023H1026H1029V1260H1032V1263H1035V1257H1038V1269H1041V1248H1044V1263H1047H1050V1254H1053V1257H1056H1059V1260H1062V1266H1065V1260H1068V1251H1071V1257H1074V1263H1077V1266H1080V1263H1083H1086V1260H1089H1092V1269H1095H1098V1263H1101V1260H1104V1263H1107V1257H1110V1251H1113V1248H1116V1233H1119V1218H1122V1185H1125V1176H1128V1164H1131V1197H1134V1233H1137V1251H1140V1263H1143H1146H1149H1152V1272H1155V1269H1158V1266H1161V1263H1164H1167V1266H1170H1173V1263H1176H1179V1269H1182V1263H1185H1188V1275H1191V1272H1194V1260H1197V1263H1200V1266H1203V1263H1206V1269H1209H1212V1260H1215V1266H1218V1269H1221V1263H1224H1227V1254H1230V1260H1233V1263H1236V1260H1239V1269H1242V1266H1245H1248V1269H1251V1272H1254H1257V1257H1260V1260H1263H1266V1242H1269H1272V1218H1275V1224H1278V1221H1281V1227H1284V1236H1287V1254H1290V1257H1293V1245H1296V1236H1299V1221H1302V1215H1305V1212H1308V1230H1311V1233H1314V1254H1317V1263H1320H1323V1269H1326H1329V1272H1332V1269H1335V1281H1338V1269H1341H1344V1260H1347V1266H1350V1272H1353V1266H1356V1278H1359V1275H1362V1278H1365V1260H1368V1266H1371V1275H1374V1269H1377H1380V1266H1383V1275H1386V1272H1389V1275H1392H1395V1257H1398V1266H1401H1404V1275H1407H1410V1269H1413H1416V1272H1419V1269H1422H1425H1428H1431V1260H1434V1263H1437V1266H1440V1269H1443H1446V1266H1449V1272H1452H1455V1266H1458H1461V1263H1464V1272H1467V1263H1470V1257H1473H1476V1251H1479V1245H1482H1485V1233H1488V1236H1491V1230H1494V1227H1497V1239H1500V1230H1503V1251H1506V1254H1509V1263H1512V1260H1515H1518V1266H1521V1257H1524V1266H1527V1272H1530V1269H1533V1257H1536V1260H1539H1542V1269H1545V1266H1548V1269H1551V1272H1554V1269H1557V1266H1560V1272H1563H1566V1275H1569V1269H1572V1266H1575V1269H1578V1263H1581V1278H1584V1269H1587V1272H1590V1254H1593V1260H1596V1275H1599H1602V1272H1605V1266H1608V1263H1611H1614V1272H1617V1275H1620V1266H1623V1272H1626V1266H1629V1272H1632V1269H1635V1263H1638H1641H1644V1257H1647V1251H1650V1254H1653V1248H1656V1257H1659V1263H1662V1269H1665V1266H1668V1263H1671V1260H1674V1254H1677V1257H1680V1251H1683V1254H1686V1245H1689H1692V1248H1695V1254H1698V1257H1701V1260H1704V1263H1707V1269H1710V1275H1713V1263H1716H1719V1272H1722V1266H1725V1275H1728V1278H1731V1281H1734V1266H1737V1272H1740V1269H1743V1275H1746V1272H1749V1278H1752H1755H1758H1761V1275H1764V1269H1767V1266H1770V1272H1773V1269H1776V1272H1779H1782V1269H1785H1788H1791V1266H1794H1797V1260H1800V1254H1803V1260H1806V1251H1809V1248H1812V1257H1815V1260H1818V1263H1821V1260H1824V1272H1827V1266H1830H1833V1275H1836H1839H1842V1272H1845V1266H1848H1851V1275H1854H1857H1860V1272H1863V1275H1866V1281H1869V1263H1872V1278H1875V1275H1878V1281H1881V1278H1884V1272H1887V1281H1890V1275H1893V1278H1896V1275H1899V1272H1902V1275H1905V1281H1908V1275H1911V1278H1914H1917V1269H1920H1923V1275H1926V1278H1929V1281H1932V1278H1935H1938V1275H1941V1278H1944V1275H1947V1278H1950V1275H1953V1281H1956V1272H1959V1278H1962V1275H1965V1272H1968H1971V1275H1974H1977V1272H1980H1983V1269H1986V1266H1989V1269H1992V1266H1995V1269H1998H2001V1263H2004V1269H2007V1275H2010V1269H2013V1266H2016V1269H2019V1266H2022H2025V1275H2028H2031V1281H2034V1272H2037V1278H2040H2043H2046H2049V1275H2052V1272H2055V1278H2058V1269H2061V1275H2064V1272H2067V1281H2070V1278H2073V1284H2076V1281H2079V1278H2082V1284H2085V1275H2088V1278H2091V1275H2094H2097V1281H2100V1275H2103H2106V1278H2109V1281H2112H2115V1284H2118V1287H2121V1284H2124V1278H2127V1281H2130V1284H2133H2136V1278H2139V1281H2142V1275H2145V1278H2148V1281H2151V1284H2154V1281H2157H2160V1284H2163V1287H2166V1281H2169H2172H2175V1284H2178V1287H2181V1293H2178V1296H2175H2172V1290H2169V1293H2166V1299H2163V1296H2160V1293H2157V1287H2154V1290H2151H2148V1293H2145H2142V1299H2139V1290H2136V1287H2133V1290H2130V1293H2127V1290H2124V1293H2121H2118V1296H2115V1287H2112V1290H2109V1293H2106V1296H2103V1284H2100V1293H2097V1287H2094V1284H2091V1287H2088H2085V1293H2082V1290H2079H2076V1296H2073V1293H2070V1290H2067V1299H2064V1284H2061V1290H2058V1299H2055V1287H2052V1290H2049H2046V1287H2043V1284H2040V1290H2037V1287H2034V1290H2031V1284H2028V1287H2025V1278H2022V1287H2019V1284H2016V1278H2013V1287H2010V1284H2007H2004V1275H2001V1278H1998H1995V1284H1992V1281H1989V1284H1986V1287H1983V1293H1980V1281H1977V1284H1974V1281H1971V1284H1968V1287H1965V1296H1962V1287H1959H1956V1290H1953V1287H1950H1947V1290H1944V1287H1941V1290H1938H1935H1932V1287H1929V1290H1926H1923V1287H1920V1284H1917V1296H1914V1290H1911H1908H1905H1902V1287H1899V1296H1896V1287H1893H1890V1290H1887H1884V1287H1881V1290H1878V1284H1875V1287H1872V1284H1869V1293H1866V1287H1863H1860V1284H1857V1287H1854V1284H1851H1848H1845H1842H1839H1836V1290H1833V1293H1830V1284H1827H1824V1278H1821H1818V1275H1815V1266H1812H1809V1263H1806V1269H1803V1266H1800V1284H1797V1281H1794V1275H1791H1788V1281H1785V1284H1782H1779V1278H1776V1281H1773V1284H1770V1293H1767V1284H1764V1287H1761H1758H1755H1752H1749V1290H1746V1287H1743V1290H1740V1284H1737V1290H1734V1293H1731V1287H1728V1281H1725V1284H1722H1719V1287H1716V1284H1713V1281H1710H1707V1275H1704V1284H1701V1275H1698V1269H1695V1257H1692H1689V1260H1686V1269H1683V1266H1680V1275H1677H1674V1278H1671H1668V1275H1665V1281H1662V1275H1659V1269H1656V1263H1653V1266H1650V1260H1647V1278H1644V1272H1641H1638V1281H1635H1632V1284H1629V1275H1626V1287H1623H1620V1293H1617V1287H1614V1278H1611V1287H1608V1281H1605V1284H1602V1290H1599V1284H1596V1281H1593V1284H1590V1287H1587H1584V1284H1581V1281H1578V1287H1575V1284H1572H1569V1293H1566V1284H1563V1281H1560V1284H1557V1275H1554V1290H1551V1284H1548V1290H1545V1284H1542V1281H1539H1536V1284H1533V1281H1530H1527V1275H1524H1521V1284H1518V1281H1515H1512V1275H1509V1266H1506H1503V1257H1500V1254H1497V1242H1494V1245H1491H1488V1254H1485V1257H1482H1479V1272H1476V1269H1473V1275H1470V1278H1467V1287H1464V1275H1461V1281H1458V1275H1455V1278H1452V1281H1449V1278H1446H1443V1287H1440V1293H1437V1281H1434V1290H1431V1284H1428V1281H1425H1422H1419H1416H1413H1410H1407V1284H1404V1281H1401V1287H1398V1281H1395V1284H1392V1290H1389V1284H1386V1287H1383V1281H1380H1377V1284H1374V1287H1371V1290H1368V1281H1365V1293H1362V1281H1359V1287H1356V1284H1353H1350V1281H1347V1272H1344V1284H1341H1338V1293H1335V1287H1332H1329V1278H1326V1275H1323V1278H1320V1272H1317V1269H1314V1257H1311V1251H1308V1233H1305V1227H1302V1248H1299V1254H1296V1269H1293V1272H1290V1263H1287H1284V1245H1281V1242H1278V1239H1275V1245H1272V1260H1269V1266H1266V1272H1263V1275H1260V1278H1257V1287H1254V1290H1251V1278H1248V1284H1245V1275H1242V1281H1239H1236V1275H1233H1230H1227H1224V1272H1221V1278H1218V1284H1215V1275H1212V1284H1209V1278H1206V1275H1203V1284H1200V1281H1197V1278H1194V1287H1191V1284H1188H1185V1290H1182V1281H1179H1176H1173V1284H1170V1278H1167V1275H1164V1278H1161V1281H1158H1155H1152H1149V1275H1146V1278H1143V1269H1140H1137V1254H1134V1239H1131V1200H1128V1188H1125V1221H1122V1236H1119V1257H1116V1272H1113V1275H1110V1272H1107V1278H1104V1272H1101H1098V1281H1095V1278H1092V1275H1089V1272H1086V1278H1083V1281H1080V1278H1077V1287H1074V1275H1071V1272H1068H1065V1281H1062H1059V1269H1056H1053V1272H1050V1278H1047V1275H1044V1272H1041V1278H1038H1035V1275H1032V1278H1029H1026V1272H1023V1269H1020V1272H1017V1290H1014V1278H1011V1272H1008H1005V1269H1002V1272H999V1278H996V1275H993V1284H990V1281H987V1278H984V1275H981V1272H978H975V1269H972V1275H969H966V1281H963V1272H960V1296H957V1278H954V1281H951V1272H948V1281H945V1278H942V1275H939V1278H936V1272H933H930V1275H927H924V1284H921V1269H918V1275H915V1269H912V1272H909V1275H906V1272H903V1269H900H897H894V1266H891H888V1278H885V1263H882V1257H879V1242H876V1218H873V1194H870V1209H867V1218H864V1251H861V1245H858V1269H855V1263H852V1269H849V1263H846V1254H843V1272H840H837V1263H834V1260H831H828V1269H825V1278H822V1266H819V1263H816V1266H813V1263H810V1254H807V1266H804V1275H801V1263H798V1254H795V1263H792V1269H789V1263H786V1251H783V1269H780V1257H777V1272H774V1260H771V1251H768H765V1263H762V1260H759H756V1245H753V1248H750V1251H747V1257H744V1275H741V1257H738V1248H735V1251H732V1245H729V1272H726V1254H723V1251H720V1248H717V1239H714V1248H711V1266H708V1257H705V1245H702V1251H699V1242H696H693V1254H690V1248H687V1257H684V1248H681V1233H678V1239H675V1242H672V1251H669V1236H666V1227H663V1236H660V1218H657V1233H654V1242H651V1227H648V1239H645V1242H642V1227H639V1245H636V1236H633V1233H630V1230H627V1233H624V1257H621V1239H618V1242H615V1260H612V1248H609V1236H606V1203H603V1224H600H597V1239H594V1224H591V1227H588V1230H585V1239H582V1242H579V1212H576V1215H573V1206H570V1200H567V1194H564V1191H561V1146H558V1020H555V978H552V1146H549V1182H546V1206H543V1221H540V1233H537V1242H534V1212H531V1215H528V1212H525V1224H522V1218H519V1227H516V1224H513V1227H510H507V1215H504V1239H501V1221H498V1218H495V1215H492V1212H489V1233H486H483V1230H480V1221H477V1227H474V1215H471V1233H468V1239H465V1251H462V1209H459H456V1221H453V1233H450H447V1260H444V1236H441V1239H438V1227H435V1245H432V1269H429V1254H426V1236H423V1227H420V1245H417V1218H414V1248H411V1251H408V1248H405V1251H402V1260H399V1248H396V1251H393V1257H390V1260H387V1254H384V1239H381V1248H378V1251H375V1245H372H369V1251H366H363H360V1260H357V1257H354V1269H351V1266H348V1254H345V1263H342V1251H339V1254H336H333V1248H330H327V1269H324V1257H321V1248H318V1254H315V1257H312V1263H309V1272H306V1263H303H300V1269H297V1272H294V1275H291V1269H288V1257H285V1266H282V1272H279V1269H276H273H270H267V1284H264V1275H261V1266H258H255V1269H252V1266H249V1272H246V1269H243V1275H240H237V1266H234V1263H231V1275H228V1284H225V1263H222V1275H219H216V1272H213V1266H210V1275H207V1272H204V1269H201V1272H198V1266H195V1272H192V1260H189V1275H186V1269H183H180V1263H177V1266H174V1263H171V1275H168Z"/>
<rect x="524" y="1268" width="34" height="205.5" fill="#000"/>
<rect x="609.5" y="1269.5" width="30.6" height="204" fill="#f00" stroke="#000" stroke-width="3"/>
<rect x="825.8" y="1391.5" width="30.7" height="82" fill="#f00" stroke="#000" stroke-width="3"/>
<rect x="855.6" y="1440.5" width="17.9" height="33" fill="#000"/>
<rect x="873.5" y="1467.3" width="15.1" height="6.2" fill="#000"/>
<rect x="906.5" y="1462.8" width="26.8" height="10.7" fill="#f00" stroke="#000" stroke-width="3"/>
<rect x="956.2" y="1436" width="29.7" height="37.5" fill="#f00" stroke="#000" stroke-width="3"/>
<rect x="1027" y="1459.8" width="30.4" height="13.7" fill="#f00" stroke="#000" stroke-width="3"/>
<rect x="1096.4" y="1420" width="33.6" height="53.5" fill="#000"/>
<rect x="1245.2" y="1440.7" width="43.1" height="32.8" fill="#000"/>
<rect x="1286.9" y="1382.7" width="30.3" height="90.8" fill="#f00" stroke="#000" stroke-width="3"/>
<rect x="1345.8" y="1448.5" width="30.3" height="25" fill="#f00" stroke="#000" stroke-width="3"/>
<rect x="1467.8" y="1455.6" width="30.4" height="17.9" fill="#000"/>
<rect x="1499.7" y="1463.3" width="26.7" height="10.2" fill="#f00" stroke="#000" stroke-width="3"/>
<rect x="1531.5" y="1463.3" width="29.7" height="10.2" fill="#f00" stroke="#000" stroke-width="3"/>
<rect x="1622.3" y="1464.5" width="30.7" height="9" fill="#000"/>
<rect x="1658" y="1445.2" width="27" height="28.3" fill="#f00" stroke="#000" stroke-width="3"/>
<rect x="1676.7" y="1460.4" width="29.8" height="13.1" fill="#f00" stroke="#000" stroke-width="3"/>
<rect x="1780" y="1458.6" width="31" height="14.9" fill="#000"/>
<rect x="1972" y="1467.6" width="52" height="5.9" fill="#000"/>
<rect x="2174.2" y="1465.5" width="4.5" height="8" fill="#f00" stroke="#000" stroke-width="1.6"/>
<g fill="#000">
<rect x="165" y="34" width="2020" height="5.5"/>
<rect x="165" y="1470.8" width="2020" height="5.4"/>
<rect x="165.1" y="37" width="6" height="1469"/>
<rect x="2179.2" y="34" width="5.8" height="1472"/>
<rect x="292.1" y="1476" width="5.8" height="15"/>
<rect x="415.8" y="1476" width="5.8" height="30"/>
<rect x="542.6" y="1476" width="5.8" height="15"/>
<rect x="669.6" y="1476" width="5.8" height="30"/>
<rect x="796.1" y="1476" width="5.8" height="15"/>
<rect x="920.1" y="1476" width="5.8" height="30"/>
<rect x="1047.1" y="1476" width="5.8" height="15"/>
<rect x="1173.8" y="1476" width="5.8" height="30"/>
<rect x="1297.4" y="1476" width="5.8" height="15"/>
<rect x="1424.3" y="1476" width="5.8" height="30"/>
<rect x="1551.1" y="1476" width="5.8" height="15"/>
<rect x="1677.9" y="1476" width="5.8" height="30"/>
<rect x="1801.8" y="1476" width="5.8" height="15"/>
<rect x="1928.5" y="1476" width="5.8" height="30"/>
<rect x="2055.1" y="1476" width="5.8" height="15"/>
</g>
<g font-family="Liberation Sans, Arial, sans-serif" font-size="57.7" fill="#000" stroke="#fff" stroke-width="0.8">
<text x="134.4" y="1565.7" letter-spacing="4.00">10</text>
<text x="386.1" y="1565.7" letter-spacing="2.00">20</text>
<text x="637.7" y="1565.7" letter-spacing="3.60">30</text>
<text x="890" y="1565.7" letter-spacing="2.80">40</text>
<text x="1140.7" y="1565.7" letter-spacing="5.40">50</text>
<text x="1391.8" y="1565.7" letter-spacing="5.40">60</text>
<text x="1645.8" y="1565.7" letter-spacing="5.40">70</text>
<text x="1896.4" y="1565.7" letter-spacing="3.60">80</text>
<text x="2150" y="1565.7" letter-spacing="1.40">90</text>
</g>
<text x="981" y="1682" font-family="Liberation Sans, Arial, sans-serif" font-weight="bold" font-size="70" letter-spacing="1.00">2θ</text>
<text x="1084" y="1682" font-family="Liberation Sans, Arial, sans-serif" font-weight="bold" font-size="70" letter-spacing="1.43"><tspan font-weight="normal">(</tspan>degree<tspan font-weight="normal">)</tspan></text>
<text transform="translate(88.4 1026) rotate(-90)" font-family="Liberation Serif, Times New Roman, serif" font-weight="bold" font-size="74" stroke="#fff" stroke-width="1.4" letter-spacing="-0.92">Intensity <tspan font-weight="normal">(</tspan>a.u.<tspan font-weight="normal">)</tspan></text>
<rect x="1097.7" y="65" width="485.5" height="175" fill="none" stroke="#000" stroke-width="3"/>
<rect x="1110" y="71.2" width="164.3" height="76.9" fill="none" stroke="#f00" stroke-width="3"/>
<rect x="1108.6" y="78" width="167" height="63" fill="#000"/>
<rect x="1108.6" y="78" width="3.2" height="63" fill="#0ff"/>
<rect x="1272.4" y="78" width="3.2" height="63" fill="#0ff"/>
<rect x="1110" y="166.5" width="164.3" height="62.3" fill="#f00" stroke="#000" stroke-width="3"/>
<g font-family="Liberation Sans, Arial, sans-serif" font-size="72.3" stroke="#fff" stroke-width="0.8">
<text x="1290.8" y="131.6" letter-spacing="1.53">Anatase</text>
<text x="1291.8" y="217.1" letter-spacing="1.72">Rutile</text>
</g>
<g font-family="Liberation Sans, Arial, sans-serif" font-size="70" stroke="#fff" stroke-width="0.8">
<text x="1737.4" y="290.4" letter-spacing="6.70">TiO</text>
<text x="1858.4" y="317" font-size="42.5" letter-spacing="0.00">2</text>
<text x="1903" y="290.4" letter-spacing="2.60">fibers</text>
<text x="1831.6" y="537.4" letter-spacing="3.55">GNT1%</text>
<text x="1810.4" y="817.6" letter-spacing="2.93">GNT2.5%</text>
<text x="1885.2" y="1222.3" letter-spacing="3.45">GNT5%</text>
</g>
</svg>
</body></html>
